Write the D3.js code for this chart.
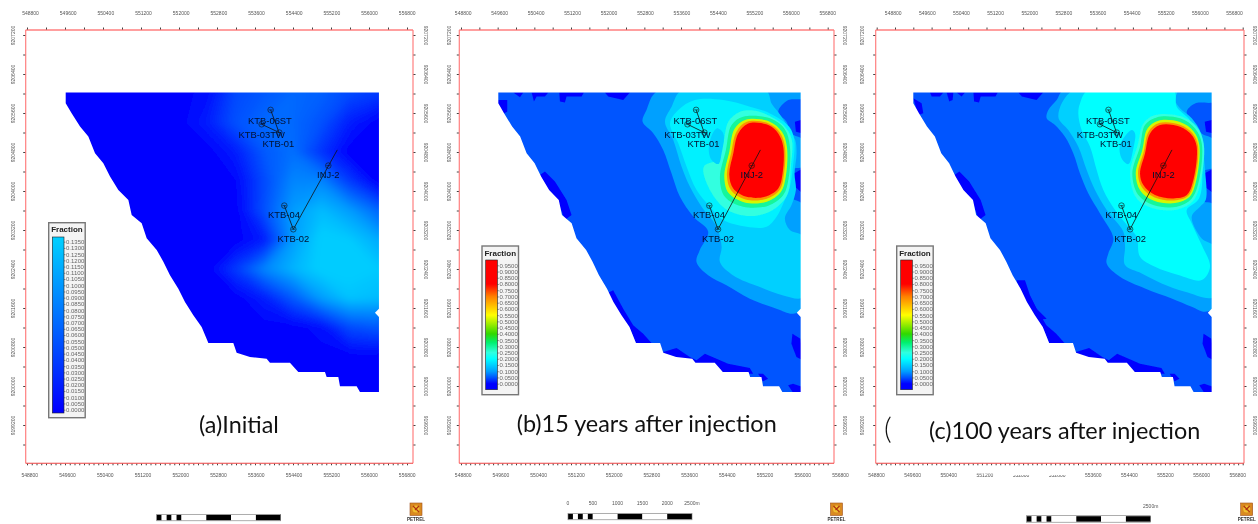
<!DOCTYPE html>
<html>
<head>
<meta charset="utf-8">
<title>Fraction maps</title>
<script src="https://cdnjs.cloudflare.com/ajax/libs/d3/7.8.5/d3.min.js"></script>
<style>
  html, body { margin: 0; padding: 0; background: #fff; }
  svg { display: block; filter: blur(0.3px); }
  text { font-family: "Liberation Sans", Arial, sans-serif; }
  .coord text { font-size: 5px; fill: #555; }
  .well-label { font-size: 9.4px; fill: #001030; text-anchor: middle; }
  .caption { font-family: Lato, sans-serif; font-size: 23.4px; fill: #111; }
</style>
</head>
<body>
<div id="chart"></div>
<script>
// tick labels
const eastingLabels = [548800, 549600, 550400, 551200, 552000, 552800, 553600, 554400, 555200, 556000, 556800]
const northingLabels = [9199200, 9200000, 9200800, 9201600, 9202400, 9203200, 9204000, 9204800, 9205600, 9206400, 9207200]
const legendTicksA = [0, .005, .01, .015, .02, .025, .03, .035, .04, .045, .05, .055, .06, .065, .07, .075, .08, .085, .09, .095, .1, .105, .11, .115, .12, .125, .13, .135]
const legendTicksB = [0, .05, .1, .15, .2, .25, .3, .35, .4, .45, .5, .55, .6, .65, .7, .75, .8, .85, .9, .95]
const scaleBarStops = [0, 100, 200, 300, 400, 500, 1000, 1500, 2000, 2500]
const scaleBarLabels = [0, 500, 1000, 1500, 2000]
const captions = ['(a)Initial', '(b)15 years after injection', '(c)100 years after injection']

// wells, map coordinates
const wellNames = ['KTB-06ST', 'KTB-03TW', 'KTB-01', 'KTB-04', 'KTB-02', 'INJ-2']
const wellEast = [553932, 553743, 554115, 554220, 554410, 555147]
const wellNorth = [9205664, 9205369, 9205198, 9203700, 9203215, 9204521]
const labelEast = [553918, 553743, 554094, 554213, 554410, 555147]
const labelNorth = [9205438, 9205164, 9204980, 9203509, 9203023, 9204330]
const wellPaths = [
  [[553932, 9205664], [554115, 9205185]],
  [[553743, 9205369], [554115, 9205198]],
  [[554220, 9203700], [554410, 9203215]],
  [[554410, 9203215], [555336, 9204843]]
]

// outline of the gridded area
const modelOutline = [[549615, 9206019], [549615, 9205800], [549740, 9205595], [549917, 9205322], [550092, 9205116], [550233, 9204774],
  [550408, 9204569], [550549, 9204296], [550724, 9204022], [550935, 9203817], [551005, 9203509], [551216, 9203338], [551321, 9203030],
  [551532, 9202791], [551672, 9202551], [551812, 9202271], [551988, 9201997], [552128, 9201724], [552304, 9201450], [552479, 9201211],
  [552620, 9200882], [553146, 9200882], [553216, 9200684], [553497, 9200595], [553848, 9200561], [553918, 9200479], [554339, 9200479],
  [554515, 9200287], [555077, 9200287], [555112, 9200185], [555358, 9200185], [555393, 9199993], [555744, 9199993], [555814, 9199877],
  [556214, 9199877], [556214, 9201416], [556130, 9201505], [556214, 9201587], [556214, 9206019], [549615, 9206019]]

// (a) initial fraction on a coarse grid
const gridEast = [549600, 550200, 550800, 551400, 552000, 552600, 553200, 553800, 554400, 555000, 555600, 556200]
const gridNorth = [9206000, 9205400, 9204800, 9204200, 9203600, 9203000, 9202400, 9201800, 9201200, 9200600, 9200000, 9199400]
const initialFraction = [
  [0, 0, 0, 0, 0, .01, .05, .06, .07, .065, .05, .04],
  [0, 0, 0, 0, 0, .02, .055, .07, .07, .055, .02, 0],
  [0, 0, 0, 0, 0, 0, .02, .06, .075, .035, 0, 0],
  [0, 0, 0, 0, 0, 0, .005, .05, .09, .09, .04, 0],
  [0, 0, 0, 0, 0, 0, 0, .055, .105, .125, .105, .07],
  [0, 0, 0, 0, 0, 0, 0, .02, .105, .14, .135, .115],
  [0, 0, 0, 0, 0, 0, .04, .09, .12, .14, .14, .135],
  [0, 0, 0, 0, 0, 0, 0, .02, .06, .105, .13, .125],
  [0, 0, 0, 0, 0, 0, 0, 0, 0, .01, .05, .06],
  [0, 0, 0, 0, 0, 0, 0, 0, 0, 0, 0, 0],
  [0, 0, 0, 0, 0, 0, 0, 0, 0, 0, 0, 0],
  [0, 0, 0, 0, 0, 0, 0, 0, 0, 0, 0, 0]
]

// low value patches near the edges
const lowShared = [
  [[550945, 9206019], [551483, 9206019], [551433, 9205937], [551105, 9205937], [551069, 9205814], [550960, 9205834]],
  [[551941, 9206019], [552487, 9206019], [552341, 9205869], [552014, 9205937]],
  [[550524, 9204330], [550633, 9204398], [550851, 9204193], [551105, 9203817], [551214, 9203509], [551069, 9203406], [550960, 9203680], [550706, 9204022]],
  [[551978, 9201895], [552123, 9201963], [552341, 9201587], [552559, 9201245], [552777, 9201074], [552959, 9200882], [552632, 9200848], [552487, 9201176], [552269, 9201450], [552087, 9201724]],
  [[553214, 9200698], [553505, 9200780], [553796, 9200595], [553941, 9200527], [554123, 9200663], [554378, 9200561], [554631, 9200458], [555104, 9200369], [555177, 9200253], [554595, 9200253], [554486, 9200287], [553868, 9200458], [553505, 9200561], [553214, 9200629]],
  [[555285, 9200253], [555394, 9200253], [555503, 9200150], [555394, 9200096]],
  [[556034, 9201074], [556209, 9200971], [556260, 9200527], [556122, 9200595], [556012, 9200869]],
  [[555940, 9200014], [556049, 9200048], [556260, 9199979], [556260, 9199863], [556049, 9199863]]
]
const lowB = [
  [[549942, 9206019], [550160, 9206019], [550088, 9205923]],
  [[550342, 9206019], [550706, 9206019], [550633, 9205937], [550451, 9205937], [550393, 9205834]],
  [[549615, 9205869], [549811, 9205869], [549811, 9205629], [549688, 9205561], [549580, 9205561]],
  [[556088, 9205421], [556260, 9205469], [556260, 9205182], [556110, 9205216]],
  [[556066, 9204361], [556260, 9204464], [556260, 9203951], [556088, 9204087]]
]
const lowC = [
  [[549984, 9206019], [550279, 9206019], [550205, 9205937], [550021, 9205937]],
  [[550352, 9206019], [550500, 9206019], [550485, 9205869], [550411, 9205834]],
  [[550574, 9206019], [550758, 9206019], [550684, 9205937]],
  [[549615, 9205903], [549799, 9205800], [549836, 9205595], [549726, 9205561]],
  [[551901, 9202168], [552085, 9202168], [552196, 9201860], [552343, 9201587], [552565, 9201382], [552343, 9201347], [552122, 9201655], [551975, 9201929]],
  [[556060, 9205421], [556260, 9205469], [556260, 9205182], [556090, 9205216]],
  [[556050, 9204361], [556260, 9204464], [556260, 9203951], [556060, 9204087]]
]

// (b) 15 years, contour polygons
const b010 = [[553105, 9206060], [552850, 9205664], [552763, 9205424], [552996, 9205185], [553214, 9204843], [553395, 9204364], [553577, 9203885], [553868, 9203475], [554195, 9203167], [554013, 9202791], [553941, 9202544], [554195, 9202271], [554595, 9202066], [555104, 9201792], [555685, 9201587], [556049, 9201484], [556270, 9201594], [556270, 9203711], [555999, 9203868], [555943, 9204087], [555999, 9204429], [556270, 9204511], [556270, 9205045], [556015, 9205182], [555906, 9205421], [555725, 9205626], [555943, 9205866], [556270, 9205900], [556270, 9206060]]
const b015 = [[553616, 9206060], [553398, 9205729], [553253, 9205421], [553434, 9205045], [553616, 9204498], [553798, 9204087], [554052, 9203677], [554380, 9203267], [554489, 9202856], [554452, 9202542], [554743, 9202268], [555325, 9202029], [555834, 9201858], [556270, 9201823], [556270, 9203061], [555979, 9203198], [555870, 9203438], [556015, 9203711], [556110, 9204019], [556081, 9204361], [556124, 9204771], [556095, 9205045], [555964, 9205250], [555819, 9205490], [555688, 9205661], [555579, 9205797], [555456, 9206060]]
const b020 = [[553907, 9205866], [553544, 9205661], [553362, 9205387], [553544, 9204977], [553725, 9204498], [553943, 9204019], [554234, 9203677], [554525, 9203403], [555034, 9203267], [555470, 9203267], [555688, 9203472], [555834, 9203745], [555979, 9204087], [556045, 9204498], [556074, 9205045], [555964, 9205319], [555543, 9205592], [555107, 9205729], [554525, 9205866]]
const b025 = [[554888, 9205626], [554634, 9205421], [554525, 9204977], [554400, 9204650], [554100, 9204500], [554198, 9204087], [554561, 9203643], [555107, 9203486], [555579, 9203595], [555921, 9203916], [555999, 9204498], [556023, 9205045], [555870, 9205319], [555543, 9205537], [555216, 9205647]]
const bPocket = [[554380, 9205284], [554220, 9204977], [554249, 9204669], [554416, 9204553], [554489, 9204771], [554525, 9205182]]
const bGreen = [[554961, 9205524], [555543, 9205490], [555870, 9205264], [555979, 9204908], [555950, 9204258], [555834, 9203916], [555506, 9203698], [554961, 9203677], [554561, 9203882], [554452, 9204258], [554583, 9204840], [554707, 9205353]]
const bYellow = [[555012, 9205462], [555528, 9205428], [555805, 9205216], [555914, 9204908], [555892, 9204306], [555783, 9203978], [555477, 9203780], [554990, 9203766], [554641, 9203957], [554547, 9204293], [554656, 9204806], [554772, 9205278]]
const bOrange = [[555041, 9205421], [555514, 9205387], [555761, 9205202], [555870, 9204908], [555848, 9204334], [555754, 9204019], [555456, 9203834], [555012, 9203827], [554699, 9204012], [554605, 9204313], [554699, 9204792], [554816, 9205223]]
const bRed = [[555070, 9205387], [555506, 9205353], [555725, 9205182], [555834, 9204908], [555819, 9204361], [555725, 9204053], [555434, 9203882], [555034, 9203882], [554743, 9204053], [554656, 9204327], [554743, 9204771], [554852, 9205182]]

// (c) 100 years, contour polygons
const c010 = [[552948, 9206071], [552786, 9205866], [552602, 9205661], [552565, 9205490], [552749, 9205353], [552970, 9205113], [553155, 9204771], [553302, 9204361], [553487, 9203951], [553745, 9203540], [554040, 9203027], [553929, 9202719], [553892, 9202514], [554187, 9202241], [554740, 9202001], [555330, 9201796], [555773, 9201625], [556068, 9201522], [556270, 9201625], [556270, 9203711], [555994, 9203780], [555846, 9203814], [555957, 9204019], [556009, 9204395], [556270, 9204498], [556270, 9205045], [555994, 9205182], [555809, 9205387], [555662, 9205626], [555846, 9205797], [556270, 9205832], [556270, 9206071]]
const c015 = [[553155, 9206071], [552823, 9205524], [553044, 9205250], [553265, 9204908], [553450, 9204429], [553634, 9204019], [553892, 9203609], [554261, 9203164], [554298, 9202856], [554298, 9202480], [554667, 9202309], [555109, 9202104], [555625, 9201933], [556270, 9201830], [556270, 9202856], [555994, 9203027], [555773, 9203472], [555957, 9203677], [556082, 9203814], [556068, 9204429], [556023, 9204840], [555979, 9205182], [555773, 9205490], [555514, 9205695], [555404, 9205866], [555441, 9206071]]
const c020 = [[553487, 9206071], [553302, 9205797], [553265, 9205592], [553339, 9205250], [553524, 9204908], [553671, 9204429], [553818, 9204019], [554077, 9203609], [554372, 9203267], [554556, 9203061], [554630, 9202651], [554961, 9202446], [555478, 9202275], [555994, 9202172], [556178, 9202446], [555994, 9202890], [555773, 9203335], [555662, 9203609], [555935, 9203848], [556009, 9204429], [555957, 9204840], [555920, 9205182], [555699, 9205490], [555441, 9205729], [555367, 9206071]]
const cPocket = [[554445, 9205250], [554187, 9204942], [554224, 9204669], [554372, 9204552], [554482, 9204874], [554519, 9205182]]
const c025 = [[554961, 9205558], [555515, 9205537], [555883, 9205319], [556038, 9204977], [555979, 9204224], [555809, 9203800], [555463, 9203622], [554925, 9203643], [554556, 9203848], [554408, 9204361], [554578, 9204942], [554703, 9205387]]
const cGreen = [[554998, 9205510], [555514, 9205490], [555846, 9205284], [555994, 9204977], [555935, 9204224], [555773, 9203848], [555441, 9203677], [554925, 9203711], [554593, 9203916], [554460, 9204361], [554630, 9204908], [554740, 9205353]]
const cYellow = [[555035, 9205442], [555514, 9205414], [555817, 9205223], [555942, 9204942], [555876, 9204224], [555721, 9203875], [555404, 9203752], [554939, 9203800], [554637, 9204005], [554534, 9204361], [554681, 9204847], [554792, 9205278]]
const cOrange = [[555050, 9205394], [555514, 9205360], [555795, 9205182], [555912, 9204929], [555839, 9204224], [555691, 9203896], [555382, 9203807], [554954, 9203869], [554674, 9204074], [554585, 9204361], [554711, 9204806], [554821, 9205223]]
const cRed = [[555072, 9205353], [555514, 9205319], [555773, 9205148], [555883, 9204908], [555809, 9204224], [555662, 9203916], [555367, 9203848], [554961, 9203916], [554703, 9204122], [554630, 9204361], [554740, 9204771], [554851, 9205182]]

const WIDTH = 1258, HEIGHT = 524

const colorInitial = d3.scaleLinear().domain([0, .135]).range(['#0000ff', '#00ccff']).clamp(true)
const colorFraction = d3.scaleLinear()
  .domain([0, .05, .1, .15, .2, .25, .33, .4, .55, .7, .8, .95])
  .range(['#0000ff', '#0055ff', '#00a0ff', '#00d0ff', '#00ffff', '#30ffe0', '#00f070', '#30d800', '#ffff00', '#ff8000', '#ff0000', '#ff0000'])

const panels = [
  {
    id: 'a', left: 25.7, right: 413, xTicks: [27, 407], fieldX: [65.7, 379],
    topLabels: [30, 406.7], bottomLabels: [29.3, 406.7], leftLabel: 13, rightLabel: 425.7,
    legendX: 48.7, legendTop: 222.7, legendBottom: 417.7, barTop: 237, barBottom: 413,
    legendRange: [409.7, 241.7], legendTicks: legendTicksA, barX: 52.3, color: colorInitial, legendDomain: [0, .135],
    captionX: 199, captionY: 432.7, barScaleX: 156.7, barScaleY: 514.3, logoX: 416
  },
  {
    id: 'b', left: 459.3, right: 834, xTicks: [461, 827.7], fieldX: [498.3, 800.7],
    topLabels: [462.7, 827.3], bottomLabels: [462.7, 840], leftLabel: 449, rightLabel: 845,
    legendX: 482, legendTop: 246, legendBottom: 394.7, barTop: 260, barBottom: 389.7,
    legendRange: [383.7, 265.3], legendTicks: legendTicksB, barX: 485.7, color: colorFraction, legendDomain: [0, .95],
    captionX: 516.7, captionY: 432, barScaleX: 568, barScaleY: 513.3, logoX: 836.5,
    low: lowShared.concat(lowB),
    layers: [[.1, b010], [.15, b015], [.185, b020], [.25, b025], [.15, bPocket], [.3, bGreen], [.52, bYellow], [.68, bOrange], [.8, bRed]]
  },
  {
    id: 'c', left: 875.7, right: 1244, xTicks: [876.7, 1242.7], fieldX: [913.3, 1211.7],
    topLabels: [892.7, 1234], bottomLabels: [876, 1237.3], leftLabel: 862.7, rightLabel: 1255,
    legendX: 896.7, legendTop: 246, legendBottom: 394.7, barTop: 260, barBottom: 389.7,
    legendRange: [383.7, 265.3], legendTicks: legendTicksB, barX: 900.7, color: colorFraction, legendDomain: [0, .95],
    captionX: 929, captionY: 438.7, barScaleX: 1026.7, barScaleY: 515.7, logoX: 1246.7,
    low: lowShared.concat(lowC),
    layers: [[.1, c010], [.15, c015], [.2, c020], [.15, cPocket], [.25, c025], [.3, cGreen], [.52, cYellow], [.68, cOrange], [.8, cRed]]
  }
]

const svg = d3.select('#chart').append('svg').attr('width', WIDTH).attr('height', HEIGHT)
const defs = svg.append('defs')
defs.append('filter').attr('id', 'soft-a').attr('x', '-5%').attr('y', '-5%').attr('width', '110%').attr('height', '110%')
  .append('feGaussianBlur').attr('stdDeviation', 3)
defs.append('filter').attr('id', 'soft-b').attr('x', '-5%').attr('y', '-5%').attr('width', '110%').attr('height', '110%')
  .append('feGaussianBlur').attr('stdDeviation', 0.6)

const y = d3.scaleLinear().domain([9200000, 9207200]).range([386, 35])
const coordFormat = d3.format('d')

panels.forEach(drawPanel)

function drawPanel(p) {
  const g = svg.append('g').attr('class', 'panel-' + p.id)
  const xTick = d3.scaleLinear().domain([548800, 556800]).range(p.xTicks)
  const x = d3.scaleLinear().domain([549615, 556215]).range(p.fieldX)

  drawField(g, p, x)
  drawFrame(g, p, xTick)
  drawCoordLabels(g, p)
  drawWells(g, x)
  drawLegend(g, p)
  drawScaleBar(g, p)
  drawLogo(g, p)

  g.append('text').attr('class', 'caption').attr('x', p.captionX).attr('y', p.captionY).text(captions[panels.indexOf(p)])
  // stray bracket left of the last caption
  if (p.id === 'c') {
    g.append('text').attr('class', 'caption').attr('x', 884).attr('y', 439)
      .attr('font-weight', 300).style('font-size', '30px').attr('fill', '#333').text('(')
  }
}

function drawField(g, p, x) {
  const outline = d3.line().x(d => x(d[0])).y(d => y(d[1]))
  defs.append('clipPath').attr('id', 'clip-' + p.id).append('path').attr('d', outline(modelOutline))

  const inner = g.append('g').attr('clip-path', `url(#clip-${p.id})`)
    .append('g').attr('filter', p.id === 'a' ? 'url(#soft-a)' : 'url(#soft-b)')

  const [x0, x1] = x.range()
  inner.append('rect').attr('x', x0 - 12).attr('y', y(9206300)).attr('width', x1 - x0 + 24).attr('height', y(9199500) - y(9206300))
    .attr('fill', p.id === 'a' ? p.color(0) : p.color(.05))

  if (p.id === 'a') {
    const contours = d3.contours().size([gridEast.length, gridNorth.length])
      .thresholds(d3.range(.0025, .145, .0025))(initialFraction.flat())
    const stepE = gridEast[1] - gridEast[0], stepN = gridNorth[0] - gridNorth[1]
    const toMap = d3.geoTransform({
      point(px, py) {
        this.stream.point(x(gridEast[0] + (px - .5) * stepE), y(gridNorth[0] - (py - .5) * stepN))
      }
    })
    inner.selectAll('path.band').data(contours).enter().append('path')
      .attr('class', 'band')
      .attr('d', d3.geoPath(toMap))
      .attr('fill', d => p.color(d.value))
    return
  }

  const polygon = d3.line().x(d => x(d[0])).y(d => y(d[1])).curve(d3.curveLinearClosed)
  const smooth = d3.line().x(d => x(d[0])).y(d => y(d[1])).curve(d3.curveCatmullRomClosed.alpha(.5))
  inner.selectAll('path.low').data(p.low).enter().append('path')
    .attr('class', 'low').attr('d', polygon).attr('fill', p.color(0))
  inner.selectAll('path.band').data(p.layers).enter().append('path')
    .attr('class', 'band').attr('d', d => smooth(d[1])).attr('fill', d => p.color(d[0]))
}

function drawFrame(g, p, xTick) {
  const frameTop = 30, frameBottom = 463.3
  g.append('line').attr('x1', p.left).attr('x2', p.right).attr('y1', frameTop).attr('y2', frameTop).attr('stroke', '#ff7f7f').attr('stroke-width', 1.3)
  g.append('line').attr('x1', p.left).attr('x2', p.left).attr('y1', frameTop).attr('y2', frameBottom).attr('stroke', '#ff7f7f').attr('stroke-width', 1.2)
  g.append('line').attr('x1', p.right).attr('x2', p.right).attr('y1', frameTop).attr('y2', frameBottom).attr('stroke', '#ff7f7f').attr('stroke-width', 1.2)
  g.append('line').attr('x1', p.left).attr('x2', p.right).attr('y1', frameBottom).attr('y2', frameBottom).attr('stroke', '#f04040').attr('stroke-width', 1.1)

  const tickE = d3.range(548800, 556801, 400)
  const tickN = d3.range(9198800, 9207201, 400)
  const topAxis = d3.axisTop(xTick).tickValues(tickE).tickSize(2).tickFormat('')
  const bottomAxis = d3.axisBottom(xTick).tickValues(d3.range(548800, 556801, 100)).tickSize(1.5).tickFormat('')
  const leftAxis = d3.axisLeft(y).tickValues(tickN).tickSize(2).tickFormat('')
  const rightAxis = d3.axisRight(y).tickValues(tickN).tickSize(2).tickFormat('')
  const groups = [
    g.append('g').attr('transform', `translate(0,${frameTop - .5})`).call(topAxis),
    g.append('g').attr('transform', `translate(0,${frameBottom + .5})`).call(bottomAxis),
    g.append('g').attr('transform', `translate(${p.left - .5},0)`).call(leftAxis),
    g.append('g').attr('transform', `translate(${p.right + .5},0)`).call(rightAxis)
  ]
  groups.forEach(a => a.select('.domain').remove())
  groups.forEach(a => a.selectAll('.tick line').attr('stroke', '#111').attr('stroke-width', .8))
}

function drawCoordLabels(g, p) {
  const topScale = d3.scaleLinear().domain([548800, 556800]).range(p.topLabels)
  const bottomScale = d3.scaleLinear().domain([548800, 556800]).range(p.bottomLabels)
  const labels = g.append('g').attr('class', 'coord')

  const top = labels.append('g').attr('transform', 'translate(0,18)')
    .call(d3.axisTop(topScale).tickValues(eastingLabels).tickSize(0).tickFormat(coordFormat))
  const bottom = labels.append('g').attr('transform', 'translate(0,470)')
    .call(d3.axisBottom(bottomScale).tickValues(eastingLabels).tickSize(0).tickFormat(coordFormat))
  const left = labels.append('g').attr('transform', `translate(${p.leftLabel},0)`)
    .call(d3.axisLeft(y).tickValues(northingLabels).tickSize(0).tickFormat(coordFormat))
  const right = labels.append('g').attr('transform', `translate(${p.rightLabel},0)`)
    .call(d3.axisRight(y).tickValues(northingLabels).tickSize(0).tickFormat(coordFormat))

  ;[top, bottom, left, right].forEach(a => {
    a.attr('font-size', null).attr('font-family', null)
    a.select('.domain').remove()
  })
  left.selectAll('text').attr('x', 0).attr('dy', '.32em').attr('text-anchor', 'middle').attr('transform', 'rotate(-90)')
  right.selectAll('text').attr('x', 0).attr('dy', '.32em').attr('text-anchor', 'middle').attr('transform', 'rotate(90)')

  // part of the lower labels is cut away in panel c
  if (p.id === 'c') {
    g.append('rect').attr('x', 1008).attr('y', 468).attr('width', 68).attr('height', 7).attr('fill', '#fff')
    g.append('rect').attr('x', 975).attr('y', 468).attr('width', 33).attr('height', 5.5).attr('fill', '#fff')
  }
}

function drawWells(g, x) {
  const wells = g.append('g')
  const path = d3.line().x(d => x(d[0])).y(d => y(d[1]))
  wells.selectAll('path').data(wellPaths).enter().append('path')
    .attr('d', path).attr('fill', 'none').attr('stroke', '#111').attr('stroke-width', .8)
  wells.selectAll('circle').data(wellNames).enter().append('circle')
    .attr('cx', (d, i) => x(wellEast[i])).attr('cy', (d, i) => y(wellNorth[i]))
    .attr('r', 2.8).attr('fill', 'none').attr('stroke', '#111').attr('stroke-width', .6)
  // cross inside each well symbol
  wells.selectAll('line').data(wellNames).enter().append('line')
    .attr('x1', (d, i) => x(wellEast[i]) - 2).attr('x2', (d, i) => x(wellEast[i]) + 2)
    .attr('y1', (d, i) => y(wellNorth[i])).attr('y2', (d, i) => y(wellNorth[i]))
    .attr('stroke', '#111').attr('stroke-width', .6)
  wells.selectAll('text').data(wellNames).enter().append('text')
    .attr('class', 'well-label')
    .attr('x', (d, i) => x(labelEast[i])).attr('y', (d, i) => y(labelNorth[i]))
    .attr('dy', '.35em').text(d => d)
}

function drawLegend(g, p) {
  const legend = g.append('g')
  const boxWidth = 36.5, barWidth = 11.7
  legend.append('rect').attr('x', p.legendX).attr('y', p.legendTop)
    .attr('width', boxWidth).attr('height', p.legendBottom - p.legendTop)
    .attr('fill', '#f4f4f4').attr('stroke', '#777').attr('stroke-width', 1.4)
  legend.append('text').attr('x', p.legendX + boxWidth / 2).attr('y', p.legendTop + 9.5)
    .attr('text-anchor', 'middle').attr('font-size', 8).attr('font-weight', 'bold').attr('fill', '#222').text('Fraction')

  const scale = d3.scaleLinear().domain(p.legendDomain).range(p.legendRange)
  const gradientId = 'legend-' + p.id
  const stops = p.id === 'a' ? p.legendDomain : colorFraction.domain()
  const barSpan = p.barBottom - p.barTop
  defs.append('linearGradient').attr('id', gradientId).attr('x1', 0).attr('x2', 0).attr('y1', 1).attr('y2', 0)
    .selectAll('stop').data(stops).enter().append('stop')
    .attr('offset', d => (p.barBottom - scale(d)) / barSpan)
    .attr('stop-color', d => p.color(d))
  legend.append('rect').attr('x', p.barX).attr('y', p.barTop).attr('width', barWidth).attr('height', barSpan)
    .attr('fill', `url(#${gradientId})`).attr('stroke', '#222').attr('stroke-width', .6)

  const axis = legend.append('g').attr('transform', `translate(${p.barX + barWidth},0)`)
    .call(d3.axisRight(scale).tickValues(p.legendTicks).tickSize(1.5).tickPadding(.5).tickFormat(d3.format('.4f')))
  axis.attr('font-size', null).attr('font-family', null)
  axis.select('.domain').remove()
  axis.selectAll('.tick line').attr('stroke', '#333').attr('stroke-width', .5)
  axis.selectAll('text').attr('font-size', 6).attr('fill', '#666')
}

function drawScaleBar(g, p) {
  const scale = d3.scaleLinear().domain([0, 2500]).range([p.barScaleX, p.barScaleX + 124])
  const bar = g.append('g')
  bar.selectAll('rect').data(d3.pairs(scaleBarStops)).enter().append('rect')
    .attr('x', d => scale(d[0])).attr('y', p.barScaleY + .5)
    .attr('width', d => scale(d[1]) - scale(d[0])).attr('height', 5.5)
    .attr('fill', (d, i) => i % 2 ? '#fff' : '#000')
  bar.append('rect').attr('x', scale(0)).attr('y', p.barScaleY).attr('width', 124).attr('height', 6.5)
    .attr('fill', 'none').attr('stroke', '#777').attr('stroke-width', .6)

  const labelY = p.barScaleY - 8
  const text = bar.append('g').attr('font-size', 5).attr('fill', '#555').attr('text-anchor', 'middle')
  if (p.id === 'b') {
    text.selectAll('text.step').data(scaleBarLabels).enter().append('text')
      .attr('class', 'step').attr('x', d => scale(d)).attr('y', labelY).text(d => d)
  }
  if (p.id !== 'a') {
    text.append('text').attr('x', scale(2500)).attr('y', labelY).text('2500m')
  }
}

function drawLogo(g, p) {
  const logo = g.append('g').attr('transform', `translate(${p.logoX},0)`)
  logo.append('rect').attr('x', -6).attr('y', 503).attr('width', 12).attr('height', 12.5).attr('fill', '#d98a20').attr('stroke', '#a05020').attr('stroke-width', .6)
  logo.append('circle').attr('cy', 509).attr('r', 3.5).attr('fill', '#f0c030')
  logo.append('path').attr('d', 'M-3,506 L3,512 M3,506 L-1,510').attr('stroke', '#b03010').attr('stroke-width', 1.2)
  logo.append('text').attr('y', 521).attr('text-anchor', 'middle').attr('font-size', 4.6).attr('font-weight', 'bold').attr('fill', '#333').text('PETREL')
}
</script>
</body>
</html>
